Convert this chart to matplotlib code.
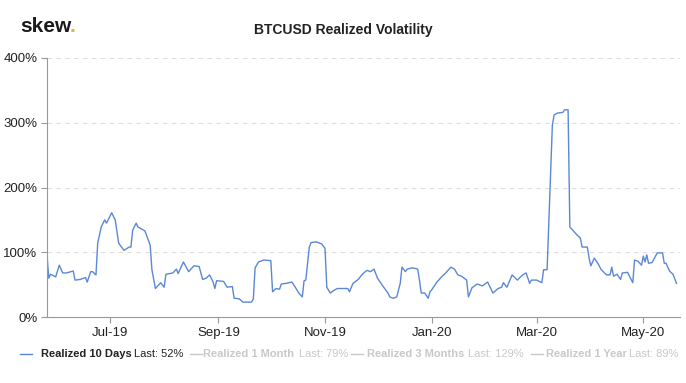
import matplotlib
matplotlib.use("Agg")
import matplotlib.pyplot as plt
import matplotlib.dates as mdates
import pandas as pd

# Realized 10 Days volatility, %
dates = [
    "2019-05-26", "2019-05-27", "2019-05-28", "2019-05-31", "2019-06-02", "2019-06-04",
    "2019-06-06", "2019-06-10", "2019-06-11", "2019-06-14", "2019-06-17", "2019-06-18",
    "2019-06-20", "2019-06-21", "2019-06-23", "2019-06-24", "2019-06-26", "2019-06-28",
    "2019-06-29", "2019-07-02", "2019-07-04", "2019-07-06", "2019-07-09", "2019-07-12",
    "2019-07-13", "2019-07-14", "2019-07-16", "2019-07-17", "2019-07-21", "2019-07-24",
    "2019-07-25", "2019-07-27", "2019-07-30", "2019-08-01", "2019-08-02", "2019-08-06",
    "2019-08-08", "2019-08-09", "2019-08-12", "2019-08-14", "2019-08-15", "2019-08-18",
    "2019-08-21", "2019-08-23", "2019-08-25", "2019-08-27", "2019-08-29", "2019-08-30",
    "2019-08-31", "2019-09-04", "2019-09-06", "2019-09-09", "2019-09-10", "2019-09-13",
    "2019-09-15", "2019-09-20", "2019-09-21", "2019-09-22", "2019-09-24", "2019-09-27",
    "2019-10-01", "2019-10-02", "2019-10-04", "2019-10-06", "2019-10-07", "2019-10-10",
    "2019-10-13", "2019-10-15", "2019-10-17", "2019-10-19", "2019-10-20", "2019-10-21",
    "2019-10-23", "2019-10-24", "2019-10-27", "2019-10-30", "2019-11-01", "2019-11-02",
    "2019-11-04", "2019-11-06", "2019-11-08", "2019-11-14", "2019-11-15", "2019-11-17",
    "2019-11-20", "2019-11-22", "2019-11-24", "2019-11-25", "2019-11-27", "2019-11-29",
    "2019-12-01", "2019-12-03", "2019-12-04", "2019-12-07", "2019-12-08", "2019-12-10",
    "2019-12-12", "2019-12-14", "2019-12-15", "2019-12-17", "2019-12-18", "2019-12-21",
    "2019-12-24", "2019-12-25", "2019-12-26", "2019-12-28", "2019-12-30", "2019-12-31",
    "2020-01-01", "2020-01-04", "2020-01-07", "2020-01-09", "2020-01-12", "2020-01-14",
    "2020-01-16", "2020-01-18", "2020-01-21", "2020-01-22", "2020-01-24", "2020-01-27",
    "2020-01-30", "2020-02-02", "2020-02-05", "2020-02-08", "2020-02-10", "2020-02-11",
    "2020-02-13", "2020-02-16", "2020-02-19", "2020-02-22", "2020-02-24", "2020-02-26",
    "2020-02-27", "2020-03-01", "2020-03-04", "2020-03-05", "2020-03-07", "2020-03-10",
    "2020-03-11", "2020-03-13", "2020-03-16", "2020-03-17", "2020-03-19", "2020-03-20",
    "2020-03-21", "2020-03-24", "2020-03-26", "2020-03-27", "2020-03-30", "2020-03-31",
    "2020-04-01", "2020-04-03", "2020-04-05", "2020-04-07", "2020-04-10", "2020-04-12",
    "2020-04-13", "2020-04-14", "2020-04-16", "2020-04-18", "2020-04-19", "2020-04-22",
    "2020-04-25", "2020-04-26", "2020-04-28", "2020-04-30", "2020-05-01", "2020-05-02",
    "2020-05-03", "2020-05-04", "2020-05-06", "2020-05-09", "2020-05-12", "2020-05-13",
    "2020-05-14", "2020-05-16", "2020-05-18", "2020-05-20",
]
vol_10d = [
    96, 60, 66, 62, 80, 68,
    68, 71, 57, 58, 61, 54,
    70, 70, 65, 114, 139, 150,
    145, 161, 150, 114, 103, 108,
    108, 134, 145, 139, 133, 111,
    73, 44, 53, 46, 66, 68,
    74, 67, 85, 75, 70, 79,
    78, 58, 60, 65, 54, 44,
    56, 55, 46, 47, 29, 28,
    23, 23, 28, 76, 85, 88,
    87, 39, 44, 43, 51, 52,
    54, 46, 37, 31, 56, 57,
    108, 115, 116, 113, 106, 46,
    37, 41, 44, 44, 39, 52,
    58, 65, 70, 72, 70, 74,
    60, 52, 48, 37, 31, 29,
    31, 52, 77, 70, 74, 76,
    74, 57, 37, 37, 29, 39,
    42, 54, 63, 68, 77, 74,
    65, 63, 57, 31, 45, 51,
    48, 54, 37, 44, 46, 53,
    46, 65, 57, 65, 68, 52,
    57, 57, 53, 73, 73, 296,
    312, 315, 316, 320, 320, 139,
    136, 127, 122, 108, 108, 91,
    79, 91, 83, 73, 65, 65,
    77, 63, 66, 58, 68, 69,
    53, 88, 86, 80, 94, 85,
    96, 83, 84, 99, 99, 83,
    83, 71, 66, 52,
]
y_ticks = [0, 100, 200, 300, 400]
legend_names = ["Realized 10 Days", "Realized 1 Month", "Realized 3 Months", "Realized 1 Year"]
legend_last = ["Last: 52%", "Last: 79%", "Last: 129%", "Last: 89%"]

FONT = "Liberation Sans"
plt.rcParams["font.family"] = [FONT, "DejaVu Sans"]

x = pd.to_datetime(dates)

fig = plt.figure(figsize=(6.86, 3.83), dpi=100)
ax = fig.add_axes([47 / 686, 1 - 317 / 383, 633 / 686, 259 / 383])

ax.plot(x, vol_10d, color="#5a88d6", linewidth=1.0)

ax.set_xlim(pd.Timestamp("2019-05-26"), pd.Timestamp("2020-05-22"))
ax.set_ylim(0, 400)
ax.set_yticks(y_ticks)
ax.set_yticklabels([f"{v}%" for v in y_ticks], fontsize=9.5, color="#222222")
ax.xaxis.set_major_locator(mdates.MonthLocator(bymonth=[1, 3, 5, 7, 9, 11]))
ax.xaxis.set_major_formatter(mdates.DateFormatter("%b-%y"))
plt.setp(ax.get_xticklabels(), fontsize=9.5, color="#222222")

for v in y_ticks[1:]:
    ax.axhline(v, color="#dedede", linewidth=0.8, linestyle=(0, (4, 4)), zorder=0)

for s in ["top", "right"]:
    ax.spines[s].set_visible(False)
ax.spines["left"].set_color("#999999")
ax.spines["bottom"].set_color("#999999")
ax.tick_params(axis="both", length=4, width=0.8, color="#999999", pad=3)

# header
fig.text(20 / 686, 1 - 27 / 383, "skew", fontsize=15, fontweight="bold",
         color="#1a1a1a", va="center", ha="left")
fig.text(70 / 686, 1 - 27 / 383, ".", fontsize=15, fontweight="bold",
         color="#e9b530", va="center", ha="left")
fig.text(343 / 686, 1 - 30 / 383, "BTCUSD Realized Volatility", fontsize=10,
         fontweight="bold", color="#222222", ha="center", va="center")

# legend along the bottom
ly = 1 - 354 / 383
marker_x = [20, 190, 351, 531]
name_x = [41, 203, 367, 546]
last_x = [134, 299, 468, 629]
for i in range(4):
    c = "#222222" if i == 0 else "#c8c8c8"
    mc = "#5a88d6" if i == 0 else "#c8c8c8"
    fig.lines.append(plt.Line2D([marker_x[i] / 686, (marker_x[i] + 12) / 686], [ly, ly],
                                color=mc, linewidth=1.0, transform=fig.transFigure))
    fig.text(name_x[i] / 686, ly, legend_names[i], fontsize=8, fontweight="bold",
             color=c, ha="left", va="center")
    fig.text(last_x[i] / 686, ly, legend_last[i], fontsize=8, color=c,
             ha="left", va="center")

fig.savefig("out.png", dpi=100, facecolor="white")
